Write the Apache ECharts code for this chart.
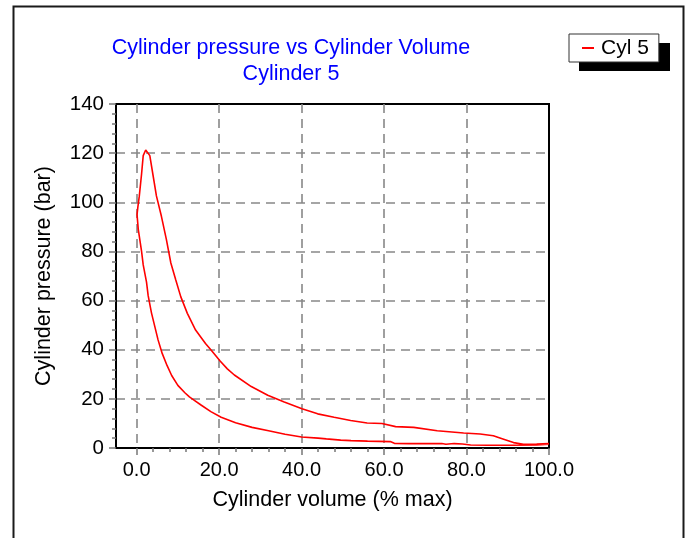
<!DOCTYPE html>
<html>
<head>
<meta charset="utf-8">
<script src="https://cdn.jsdelivr.net/npm/echarts@6/dist/echarts.min.js"></script>
<style>
html,body{margin:0;padding:0;background:#fff;}
#chart{width:688px;height:538px;}
</style>
</head>
<body>
<div id="chart"></div>
<script>
// ---- Data ----
const titleLines = ['Cylinder pressure vs Cylinder Volume', 'Cylinder 5'];
const seriesName = 'Cyl 5';
const xAxisName = 'Cylinder volume (% max)';
const yAxisName = 'Cylinder pressure (bar)';

// Compression stroke (lower curve), from BDC (100 %) to TDC, then rising to peak
const compressionVolume = [100, 97, 91, 85, 81, 79, 77, 75, 74, 70, 66, 62.5, 61.5, 56, 52, 49.5, 46, 44, 40, 36, 32, 28, 24, 20.5, 18, 15.7, 14, 12.8, 11.7, 10, 8.5, 7.4, 6.2, 5.2, 4.4, 3.6, 2.8, 2.4, 1.6, 1.2, 0.4, 0.1, 0.3, 0.65, 1.2, 1.6, 2.2];
const compressionPressure = [1.5, 1.2, 1.1, 1.1, 1.2, 1.6, 1.8, 1.5, 1.8, 1.8, 1.8, 1.9, 2.6, 2.8, 3.0, 3.2, 3.7, 4.0, 4.5, 5.6, 7.0, 8.4, 10.3, 12.5, 14.8, 17.4, 19.4, 20.8, 22.5, 25.5, 29.5, 33.5, 38.5, 44.0, 49.5, 55.0, 62.0, 67.5, 74.5, 80.0, 89.0, 95.0, 98.0, 102.5, 111.5, 119.0, 121.3];

// Expansion stroke (upper curve), from peak back to BDC
const expansionVolume = [2.6, 3.2, 4.0, 4.8, 6.0, 7.2, 8.3, 9.5, 10.7, 12.3, 14.3, 16.7, 18.1, 20.3, 22.0, 23.7, 27.8, 31.8, 35.8, 40.1, 43.9, 47.9, 51.9, 55.9, 59.5, 62.8, 67.2, 72.9, 79.3, 83.3, 86.5, 89.0, 91.4, 93.8, 97, 100];
const expansionPressure = [121.0, 119.0, 110.8, 102.6, 94.4, 85.0, 75.3, 68.4, 61.6, 54.8, 48.0, 42.5, 39.8, 35.3, 32.2, 29.7, 25.0, 21.5, 18.7, 16.0, 13.9, 12.5, 11.2, 10.2, 10.0, 8.7, 8.4, 7.0, 6.1, 5.7, 5.0, 3.6, 2.2, 1.5, 1.6, 1.8];

const xMinorTicks = [4, 8, 12, 16, 24, 28, 32, 36, 44, 48, 52, 56, 64, 68, 72, 76, 84, 88, 92, 96];

// ---- Build ----
const loopData = [];
compressionVolume.forEach((v, i) => loopData.push([v, compressionPressure[i]]));
expansionVolume.forEach((v, i) => loopData.push([v, expansionPressure[i]]));

const FONT = "'Liberation Sans', Arial, sans-serif";
const dashed = {show: true, showMinLine: false, showMaxLine: false,
  lineStyle: {color: '#888', width: 1.6, type: [9, 6]}};

const chart = echarts.init(document.getElementById('chart'), null, {renderer: 'canvas'});
chart.setOption({
  backgroundColor: '#fff',
  animation: false,
  textStyle: {fontFamily: FONT},
  graphic: [{
    type: 'rect', left: 11, top: 4, z: -10, silent: true,
    shape: {width: 670, height: 560},
    style: {fill: 'none', stroke: '#1a1a1a', lineWidth: 2}
  }, {
    type: 'rect', left: 579, top: 43, z: 1, silent: true,
    shape: {width: 91, height: 28},
    style: {fill: '#000'}
  }],
  title: {
    text: titleLines.join('\n'),
    left: 286, top: 30, textAlign: 'center',
    textStyle: {color: '#0000ff', fontSize: 21.5, fontWeight: 'normal', fontFamily: FONT, lineHeight: 26}
  },
  legend: {
    data: [seriesName],
    left: 569, top: 34, z: 5,
    orient: 'vertical',
    icon: 'rect', itemWidth: 12, itemHeight: 2,
    padding: [3, 10, 3, 13],
    backgroundColor: '#fff',
    borderColor: '#333', borderWidth: 1,
    textStyle: {color: '#000', fontSize: 21, fontFamily: FONT, lineHeight: 22, padding: [0, 0, 0, 2]}
  },
  grid: {
    left: 116, right: 139, top: 104, bottom: 90,
    show: true, borderColor: '#000', borderWidth: 2, backgroundColor: '#fff'
  },
  xAxis: [{
    type: 'value', min: -5, max: 100, splitNumber: 5,
    name: xAxisName, nameLocation: 'middle', nameGap: 41,
    nameTextStyle: {color: '#000', fontSize: 21.5, fontFamily: FONT},
    axisLine: {show: true, onZero: false, lineStyle: {color: '#000', width: 2}},
    axisTick: {show: true, length: 7, lineStyle: {color: '#777', width: 1.5}},
    axisLabel: {showMinLabel: false, color: '#000', fontSize: 20, fontFamily: FONT, margin: 12,
      formatter: v => v.toFixed(1)},
    splitLine: dashed
  }, {
    type: 'value', min: -5, max: 100, position: 'bottom',
    axisLine: {show: false},
    axisTick: {show: true, length: 4, customValues: xMinorTicks, lineStyle: {color: '#777', width: 1.5}},
    axisLabel: {show: false},
    splitLine: {show: false}
  }],
  yAxis: {
    type: 'value', min: 0, max: 140, interval: 20,
    name: yAxisName, nameLocation: 'middle', nameGap: 61,
    nameTextStyle: {color: '#000', fontSize: 21.5, fontFamily: FONT},
    axisLine: {show: true, onZero: false, lineStyle: {color: '#000', width: 2}},
    axisTick: {show: true, length: 7, lineStyle: {color: '#777', width: 1.5}},
    minorTick: {show: true, splitNumber: 5, length: 4, lineStyle: {color: '#777', width: 1.5}},
    axisLabel: {color: '#000', fontSize: 20.5, fontFamily: FONT, margin: 12},
    splitLine: dashed
  },
  series: [{
    name: seriesName, type: 'line', xAxisIndex: 0,
    data: loopData, showSymbol: false, symbol: 'none',
    lineStyle: {color: '#ff0000', width: 1.6},
    itemStyle: {color: '#ff0000'}
  }]
});
</script>
</body>
</html>
